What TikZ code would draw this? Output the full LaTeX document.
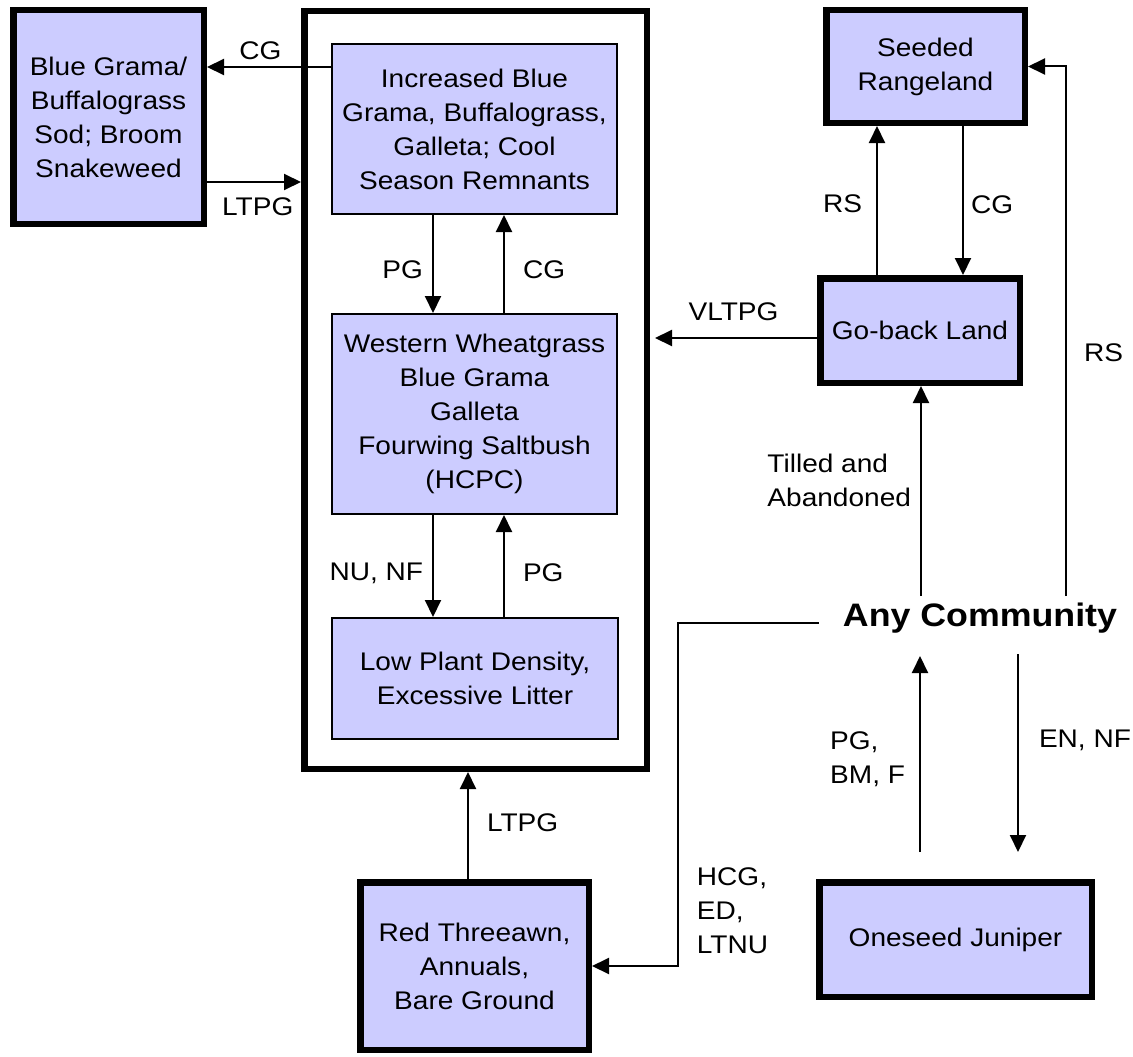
\documentclass[tikz,border=0pt]{standalone}
\usepackage{fontspec}
\setmainfont{Liberation Sans}[FakeStretch=1.1]
\usetikzlibrary{arrows.meta}
\definecolor{statefill}{RGB}{204,204,255}

\begin{document}
\begin{tikzpicture}[
    x=1pt, y=-1pt,
    every node/.style={font=\fontsize{25.5}{34}\selectfont, align=center, inner sep=0pt},
    site/.style={draw, line width=6.5pt, fill=statefill},
    phase/.style={draw, line width=2pt, fill=statefill},
    lbl/.style={inner sep=2pt, align=left},
    >={Triangle[length=17pt,width=16pt]},
    line width=2pt
  ]
  \useasboundingbox (0,0) rectangle (1133,1057);
  % frame round the reference states
  \node[draw, line width=6.5pt, minimum width=342.5, minimum height=757.5] (HOLD) at (475.5,390) {};
  \node[site, minimum width=190.5, minimum height=213.5] (BG) at (108.5,117) {Blue Grama/\\Buffalograss\\Sod; Broom\\Snakeweed};
  \node[phase, minimum width=285, minimum height=170] (IB) at (474.5,129) {Increased Blue\\Grama, Buffalograss,\\Galleta; Cool\\Season Remnants};
  \node[phase, minimum width=285, minimum height=200] (WW) at (474.5,414) {Western Wheatgrass\\Blue Grama\\Galleta\\Fourwing Saltbush\\(HCPC)};
  \node[phase, minimum width=286, minimum height=121] (LP) at (475,678.5) {Low Plant Density,\\Excessive Litter};
  \node[site, minimum width=198.5, minimum height=112.5] (SR) at (925.5,66.5) {Seeded\\Rangeland};
  \node[site, minimum width=199.5, minimum height=104.5] (GB) at (920,330.5) {Go-back Land};
  \node[site, minimum width=228.5, minimum height=167.5] (RT) at (474.5,966) {Red Threeawn,\\Annuals,\\Bare Ground};
  \node[site, minimum width=272.5, minimum height=114.5] (OJ) at (955.5,939.5) {Oneseed Juniper};
  \node[font=\bfseries\fontsize{32.5}{38}\selectfont, inner xsep=23pt, minimum height=42] (AC) at (980,618) {Any Community};

  % transitions
  \draw[->] (IB.west |- 0,67) -- node[lbl, above=4pt, pos=.57] (cg1) {CG} (BG.east |- 0,67);
  \draw[->] (BG.east |- 0,182) -- node[lbl, below=13pt, pos=.54] (ltpg1) {LTPG} (HOLD.west |- 0,182);
  \draw[->] (IB.south -| 433,0) -- node[lbl, left=7pt, pos=.56] (pg1) {PG} (WW.north -| 433,0);
  \draw[->] (WW.north -| 504,0) -- node[lbl, right=16pt, pos=.44] (cg2) {CG} (IB.south -| 504,0);
  \draw[->] (WW.south -| 433,0) -- node[lbl, left=7pt, pos=.57] (nu) {NU, NF} (LP.north -| 433,0);
  \draw[->] (LP.north -| 504,0) -- node[lbl, right=16pt, pos=.43] (pg2) {PG} (WW.south -| 504,0);
  \draw[->] (RT.north -| 468,0) -- node[lbl, right=16pt, pos=.53] (ltpg2) {LTPG} (HOLD.south -| 468,0);
  \draw[->, shorten >=5pt] (GB.west |- 0,338) -- node[lbl, above=14pt] (vltpg) {VLTPG} (HOLD.east |- 0,338);
  \draw[->] (GB.north -| 877,0) -- node[lbl, left=12pt, pos=.48] (rs1) {RS} (SR.south -| 877,0);
  \draw[->] (SR.south -| 963,0) -- node[lbl, right=5pt, pos=.53] (cg3) {CG} (GB.north -| 963,0);
  \draw[->] (AC.north -| 921,0) -- node[lbl, left=7pt, pos=.55] (till) {Tilled and\\Abandoned} (GB.south -| 921,0);
  \draw[->] (AC.north -| 1066,0) |- node[lbl, right=15pt, pos=.23] (rs2) {RS} (SR.east);
  \draw[->] (AC.west |- 0,623) -- ++(-141,0) |- node[lbl, right=16pt, pos=.42] (hcg) {HCG,\\ED,\\LTNU} (RT.east);
  \draw[->, shorten <=27pt, shorten >=16pt] (OJ.north -| 920,0) -- node[lbl, left=12pt, pos=.5] (pg3) {PG,\\BM, F} (AC.south -| 920,0);
  \draw[->, shorten <=14pt, shorten >=27pt] (AC.south -| 1018,0) -- node[lbl, right=18pt, pos=.42] (en) {EN, NF} (OJ.north -| 1018,0);
\end{tikzpicture}
\end{document}
